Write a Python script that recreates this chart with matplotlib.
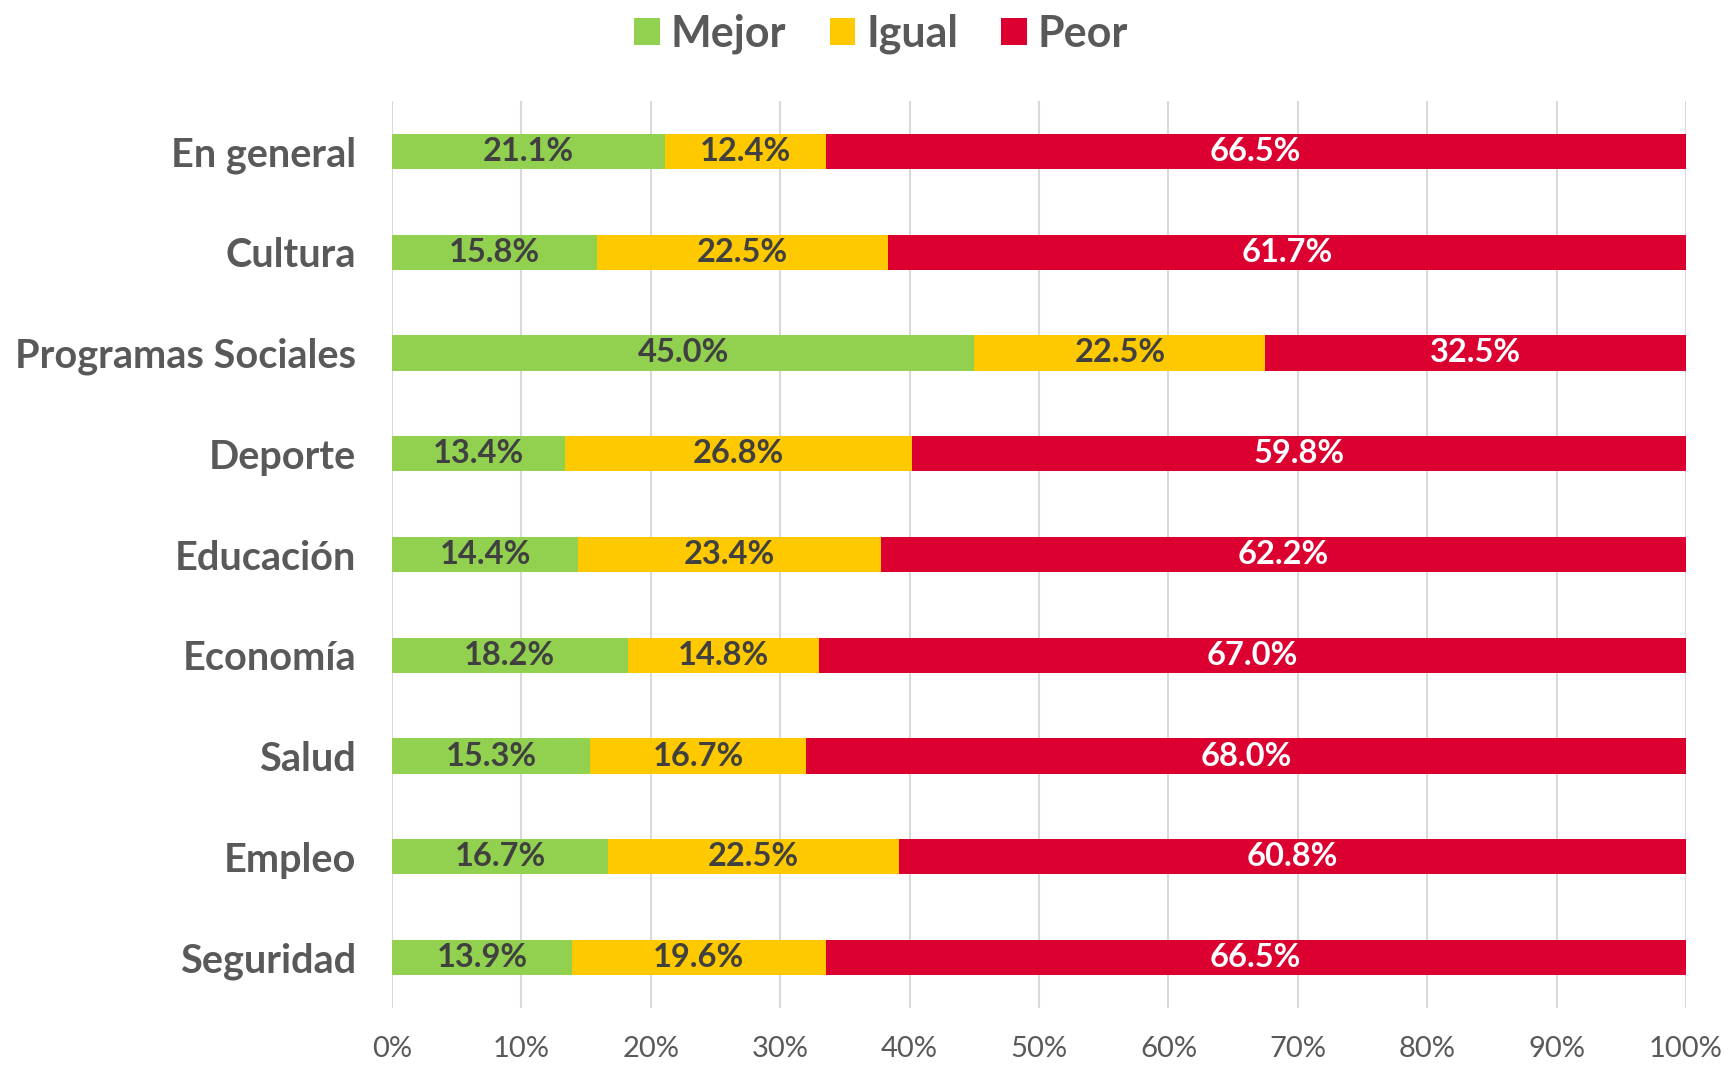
import matplotlib.pyplot as plt
import numpy as np

categorias = ["En general", "Cultura", "Programas Sociales", "Deporte", "Educación",
              "Economía", "Salud", "Empleo", "Seguridad"]
mejor = [21.1, 15.8, 45.0, 13.4, 14.4, 18.2, 15.3, 16.7, 13.9]
igual = [12.4, 22.5, 22.5, 26.8, 23.4, 14.8, 16.7, 22.5, 19.6]
peor = [66.5, 61.7, 32.5, 59.8, 62.2, 67.0, 68.0, 60.8, 66.5]
ticks = list(range(0, 101, 10))

plt.rcParams['font.family'] = ['Lato', 'DejaVu Sans']

fig = plt.figure(figsize=(17.28, 10.67), dpi=100)
ax = fig.add_axes([0.2269, 0.0553, 0.7488, 0.8500])

y = np.arange(len(categorias))
colores = ["#92D050", "#FFC900", "#DB0030"]
nombres = ["Mejor", "Igual", "Peor"]
txt_col = ["#404040", "#404040", "white"]
izq = np.zeros(len(categorias))
for serie, c, n, tc in zip([mejor, igual, peor], colores, nombres, txt_col):
    vals = np.array(serie)
    ax.barh(y, vals, left=izq, height=0.35, color=c, label=n, zorder=3)
    for yi, l, v in zip(y, izq, vals):
        ax.text(l + v / 2, yi, f"{v:.1f}%", ha="center", va="center",
                fontsize=23.5, fontweight="bold", color=tc, zorder=4)
    izq = izq + vals

ax.set_xlim(0, 100)
ax.set_ylim(len(categorias) - 0.5, -0.5)
ax.set_xticks(ticks)
ax.set_xticklabels([f"{t}%" for t in ticks], fontsize=21, color="#595959")
ax.set_yticks(y)
ax.set_yticklabels(categorias, fontsize=28.5, fontweight="bold", color="#595959")
for lbl in ax.get_yticklabels():
    lbl.set_verticalalignment("center_baseline")
ax.tick_params(axis="y", length=0, pad=26)
ax.tick_params(axis="x", length=0, pad=20)
ax.grid(axis="x", color="#D9D9D9", linewidth=1.5, zorder=0)
ax.set_axisbelow(True)
for s in ax.spines.values():
    s.set_visible(False)

leg = fig.legend(loc="center", bbox_to_anchor=(0.51, 0.968), ncol=3, frameon=False,
                 prop={"size": 31, "weight": "bold"}, handlelength=0.6, handleheight=0.6,
                 handletextpad=0.25, columnspacing=1.0)
for t in leg.get_texts():
    t.set_color("#595959")

plt.savefig("out.png", dpi=100)
